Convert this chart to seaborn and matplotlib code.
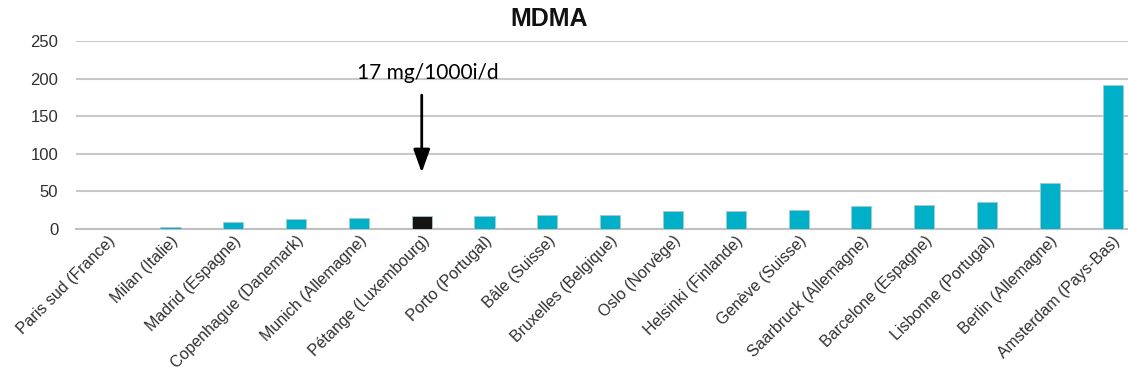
import matplotlib
matplotlib.use("Agg")
import matplotlib.pyplot as plt
import seaborn as sns
import pandas as pd

cities = ["Paris sud (France)", "Milan (Italie)", "Madrid (Espagne)", "Copenhague (Danemark)",
          "Munich (Allemagne)", "Pétange (Luxembourg)", "Porto (Portugal)", "Bâle (Suisse)",
          "Bruxelles (Belgique)", "Oslo (Norvège)", "Helsinki (Finlande)", "Genève (Suisse)",
          "Saarbruck (Allemagne)", "Barcelone (Espagne)", "Lisbonne (Portugal)",
          "Berlin (Allemagne)", "Amsterdam (Pays-Bas)"]
values = [0, 3, 9.5, 13, 14.5, 17, 17, 18, 18, 23.5, 24, 25, 30.5, 32, 35.5, 61, 192]
highlight_city = "Pétange (Luxembourg)"
annotation_text = "17 mg/1000i/d"
yticks = [0, 50, 100, 150, 200, 250]

df = pd.DataFrame({"city": cities, "value": values})
df["group"] = ["hl" if c == highlight_city else "other" for c in cities]

sns.set_style("white")
plt.rcParams["font.family"] = ["Liberation Sans", "DejaVu Sans"]

fig = plt.figure(figsize=(11.28, 3.87), dpi=100)
ax = fig.add_axes([76.3 / 1128, (387 - 229) / 387, 1067.7 / 1128, 188 / 387])

sns.barplot(data=df, x="city", y="value", hue="group", dodge=False, width=0.32,
            palette={"other": "#00B0C8", "hl": "#141414"}, saturation=1, legend=False, ax=ax,
            edgecolor="#a8c8cc", linewidth=0.6, zorder=3)

ax.set_ylim(0, 250)
ax.set_xlim(-0.5, len(cities) - 0.5)
ax.set_yticks(yticks)
ax.set_yticklabels([str(t) for t in yticks])
ax.yaxis.grid(True, color="#c8c8c8", linewidth=1.5, zorder=0)
ax.set_axisbelow(True)
for s in ["left", "right", "top"]:
    ax.spines[s].set_visible(False)
ax.spines["bottom"].set_color("#c0c0c0")
ax.spines["bottom"].set_linewidth(1.5)
ax.tick_params(axis="y", length=0, pad=13, labelsize=12, labelcolor="#303030")
ax.tick_params(axis="x", length=0, pad=3, labelsize=11.5, labelcolor="#303030")
ax.set_xlabel("")
ax.set_ylabel("")
plt.setp(ax.get_xticklabels(), rotation=45, ha="right", rotation_mode="anchor")

hi = cities.index(highlight_city)
ax.annotate("", xy=(hi, 75), xytext=(hi, 178),
            arrowprops=dict(arrowstyle="-|>,head_width=0.5,head_length=1.4", color="black",
                            lw=2, shrinkA=0, shrinkB=0))
ax.text(hi + 0.1, 207, annotation_text, ha="center", va="center", fontsize=15,
        family=["Lato", "DejaVu Sans"], color="black")

fig.text(549 / 1128, 1 - 19.5 / 387, "MDMA", ha="center", va="center", fontsize=18,
         fontweight="bold", color="#111111")

fig.savefig("out.png", dpi=100)
